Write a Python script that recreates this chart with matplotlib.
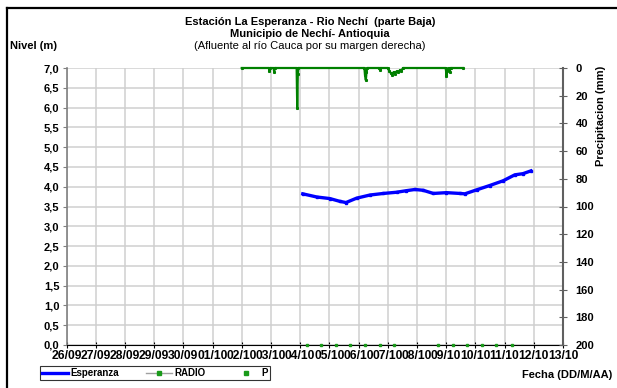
import matplotlib
matplotlib.use("Agg")
import matplotlib.pyplot as plt
from matplotlib.lines import Line2D

plt.rcParams['font.family'] = ['Liberation Sans', 'DejaVu Sans']

# ---- data (days since 26/09) ----
date_labels = ["26/09", "27/09", "28/09", "29/09", "30/09", "01/10", "02/10", "03/10", "04/10",
               "05/10", "06/10", "07/10", "08/10", "09/10", "10/10", "11/10", "12/10", "13/10"]

esp_t = [8.09, 8.57, 9.02, 9.36, 9.57, 9.93, 10.39, 10.85, 11.30, 11.64, 11.93, 12.21,
         12.56, 13.01, 13.47, 13.64, 14.04, 14.49, 14.95, 15.35, 15.63, 15.90]
esp_v = [3.82, 3.74, 3.70, 3.63, 3.60, 3.71, 3.79, 3.83, 3.86, 3.90, 3.93, 3.91,
         3.83, 3.85, 3.83, 3.82, 3.92, 4.03, 4.15, 4.30, 4.33, 4.40]

radio_t = [6.00, 6.93, 6.95, 6.97, 7.09, 7.11, 7.13, 7.88, 7.90, 7.92, 7.94, 10.20, 10.22,
           10.25, 10.27, 10.30, 10.71, 10.73, 10.75, 11.00, 11.05, 11.10, 11.15, 11.20, 11.24,
           11.30, 11.36, 11.42, 11.47, 11.52, 12.98, 13.00, 13.01, 13.04, 13.10, 13.12, 13.15, 13.58]
radio_mm = [0, 0, 2.2, 0, 0, 2.6, 0, 0, 28.6, 4.0, 0, 0, 5.0,
            8.8, 3.0, 0, 0, 1.2, 0, 0, 2.0, 3.5, 4.8, 3.0, 4.0,
            2.5, 3.0, 1.5, 2.0, 0, 0, 2.5, 6.0, 2.0, 0, 2.6, 0, 0]

p_t = [8.22, 8.71, 9.23, 9.71, 10.22, 10.73, 11.22, 12.73, 13.22, 13.73, 14.23, 14.72, 15.24]
p_v = [0, 0, 0, 0, 0, 0, 0, 0, 0, 0, 0, 0, 0]

y_ticks = [0.0, 0.5, 1.0, 1.5, 2.0, 2.5, 3.0, 3.5, 4.0, 4.5, 5.0, 5.5, 6.0, 6.5, 7.0]
mm_ticks = [0, 20, 40, 60, 80, 100, 120, 140, 160, 180, 200]

# ---- figure ----
fig = plt.figure(figsize=(6.17, 3.88), dpi=100)
W, H = 617, 388
ax = fig.add_axes([66.5 / W, 1 - 345 / H, (563 - 66.5) / W, (345 - 68) / H])

ax.set_xlim(0, len(date_labels) - 1)
ax.set_ylim(0, 7)
ax.set_xticks(range(len(date_labels)))
ax.set_xticklabels(date_labels, fontsize=8.7, fontweight='bold')
ax.set_yticks(y_ticks)
ax.set_yticklabels([f"{v:.1f}".replace('.', ',') for v in y_ticks], fontsize=8, fontweight='bold')
ax.grid(True, color='#cfcfcf', lw=1.1)
ax.set_axisbelow(True)
ax.spines['top'].set_visible(False)
ax.spines['right'].set_visible(False)
ax.spines['left'].set_color('#808080')
ax.spines['left'].set_linewidth(1.2)
ax.spines['bottom'].set_color('black')
ax.tick_params(axis='y', direction='out', length=3, color='#808080', pad=2)
ax.tick_params(axis='x', direction='inout', length=5, color='black', pad=1)

ax.plot(esp_t, esp_v, color='#0000ff', lw=2.4, marker='s', ms=1.5, zorder=4)
ax.plot(p_t, p_v, ls='none', marker='s', ms=1.8, color='#1a9a1a', zorder=5, clip_on=False)

ax2 = ax.twinx()
ax2.set_ylim(200, 0)
ax2.set_yticks(mm_ticks)
ax2.set_yticklabels([str(v) for v in mm_ticks], fontsize=8, fontweight='bold')
for s in ['top', 'left', 'bottom']:
    ax2.spines[s].set_visible(False)
ax2.spines['right'].set_color('#606060')
ax2.spines['right'].set_linewidth(1.5)
ax2.tick_params(axis='y', direction='inout', length=6, color='#606060', pad=6)
ax2.plot(radio_t, radio_mm, color='#008000', lw=1.6, marker='s', ms=1.2, zorder=5, clip_on=False)

# ---- texts ----
fig.text(310 / W, 1 - 22 / H, "Estación La Esperanza - Rio Nechí  (parte Baja)", ha='center', va='center',
         fontsize=8, fontweight='bold')
fig.text(310 / W, 1 - 34 / H, "Municipio de Nechí- Antioquia", ha='center', va='center',
         fontsize=8, fontweight='bold')
fig.text(310 / W, 1 - 46 / H, "(Afluente al río Cauca por su margen derecha)", ha='center', va='center',
         fontsize=8)
fig.text(10 / W, 1 - 46 / H, "Nivel (m)", ha='left', va='center', fontsize=8, fontweight='bold')
fig.text(612 / W, 1 - 375 / H, "Fecha (DD/M/AA)", ha='right', va='center', fontsize=8, fontweight='bold')
fig.text(601 / W, 1 - 66 / H, "Precipitacion (mm)", ha='center', va='top', rotation=90,
         fontsize=8, fontweight='bold')

# ---- legend ----
handles = [Line2D([], [], color='#0000ff', lw=2.4),
           Line2D([], [], color='#a0a0a0', lw=1.0, marker='s', ms=2.5, mfc='#1a9a1a', mec='#1a9a1a'),
           Line2D([], [], ls='none', marker='s', ms=2.5, color='#1a9a1a')]
leg = fig.legend(handles, ["Esperanza", "RADIO", "P"], ncol=3, loc='center left',
                 bbox_to_anchor=(40 / W, 1 - 373 / H), prop={'weight': 'bold', 'size': 7},
                 frameon=True, fancybox=False, edgecolor='black', borderpad=0.25, handlelength=2.6,
                 columnspacing=2.8, handletextpad=0.3, borderaxespad=0)
leg.get_frame().set_linewidth(0.8)

# ---- outer border ----
fig.add_artist(Line2D([7 / W, 7 / W], [0, 1 - 8 / H], color='black', lw=1.6, transform=fig.transFigure))
fig.add_artist(Line2D([7 / W, 1], [1 - 8 / H, 1 - 8 / H], color='black', lw=1.6, transform=fig.transFigure))

fig.savefig("out.png", dpi=100)
